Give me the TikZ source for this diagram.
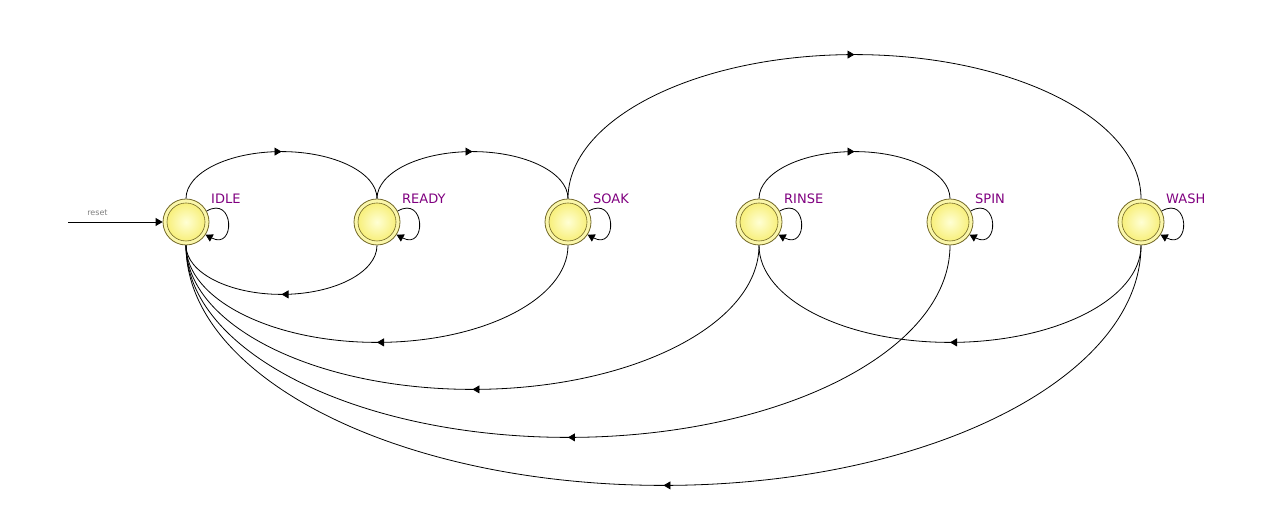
\documentclass[tikz,border=0pt]{standalone}
\usepackage{fontspec}
\setmainfont{DejaVu Sans}
\usetikzlibrary{arrows.meta,calc,decorations.markings}
\definecolor{statering}{RGB}{115,105,40}
\definecolor{stateouter}{RGB}{250,246,170}
\definecolor{statecore}{RGB}{255,255,212}
\definecolor{stateedge}{RGB}{246,236,105}
\definecolor{statename}{RGB}{128,0,128}
\begin{document}
\begin{tikzpicture}[x=1pt,y=1pt,
  state/.style={circle, draw=statering, line width=0.8pt, fill=stateouter,
    minimum size=46pt, inner sep=0pt,
    path picture={
      \shade[inner color=statecore, outer color=stateedge]
        (path picture bounding box.center) circle (19pt);
      \draw[statering, line width=0.6pt]
        (path picture bounding box.center) circle (19pt);}},
  statename/.style={text=statename, font=\fontsize{13}{15}\selectfont,
    anchor=base west, inner sep=0pt},
  edge/.style={draw=black, line width=0.8pt},
  tip/.style={-{Triangle[length=7pt,width=8pt]}},
  midarrow/.style={postaction={decorate}, decoration={markings,
    mark=at position 0.5 with {\arrow{Triangle[length=7pt,width=8pt]}}}},
  % half ellipse above, drawn left to right between two anchors
  overarc/.style={to path={let \p1=($(\tikztotarget)-(\tikztostart)$) in
    arc[start angle=180, end angle=0, x radius=0.5*\x1, y radius=#1pt]}},
  % half ellipse below, drawn right to left between two anchors
  underarc/.style={to path={let \p1=($(\tikztostart)-(\tikztotarget)$) in
    arc[start angle=0, end angle=-180, x radius=0.5*\x1, y radius=#1pt]}},
  selfloop/.style={edge, tip}
]
\fill[white] (0,0) rectangle (1284,513);
\path[use as bounding box] (0,0) rectangle (1284,513);

% states
\node[state] (idle)  at (186,291)  {};
\node[state] (ready) at (377,291)  {};
\node[state] (soak)  at (568,291)  {};
\node[state] (rinse) at (759,291)  {};
\node[state] (spin)  at (950,291)  {};
\node[state] (wash)  at (1141,291) {};

% state names
\node[statename] (idlename)  at (211,309)  {IDLE};
\node[statename] (readyname) at (402,309)  {READY};
\node[statename] (soakname)  at (593,309)  {SOAK};
\node[statename] (rinsename) at (784,309)  {RINSE};
\node[statename] (spinname)  at (975,309)  {SPIN};
\node[statename] (washname)  at (1166,309) {WASH};

% reset entry
\coordinate (resetstart) at (68,291);
\draw[edge, tip] (resetstart) -- (idle.west);
\node[font=\fontsize{8}{9}\selectfont, text=gray, inner sep=0pt] (resetlbl) at (97.5,300) {reset};

% self loops
\foreach \s in {idle,ready,soak,rinse,spin,wash}
  \draw[selfloop] (\s.28) .. controls +(28,16) and +(30,-16) .. (\s.-33);

% forward transitions (over the top)
\draw[edge, midarrow] (idle.north)  to[overarc=47]  (ready.north);
\draw[edge, midarrow] (ready.north) to[overarc=47]  (soak.north);
\draw[edge, midarrow] (soak.north)  to[overarc=144] (wash.north);
\draw[edge, midarrow] (rinse.north) to[overarc=47]  (spin.north);

% return transitions (underneath)
\draw[edge, midarrow] (ready.south) to[underarc=49]  (idle.south);
\draw[edge, midarrow] (soak.south)  to[underarc=97]  (idle.south);
\draw[edge, midarrow] (rinse.south) to[underarc=144] (idle.south);
\draw[edge, midarrow] (spin.south)  to[underarc=192] (idle.south);
\draw[edge, midarrow] (wash.south)  to[underarc=240] (idle.south);
\draw[edge, midarrow] (wash.south)  to[underarc=97]  (rinse.south);
\end{tikzpicture}
\end{document}
